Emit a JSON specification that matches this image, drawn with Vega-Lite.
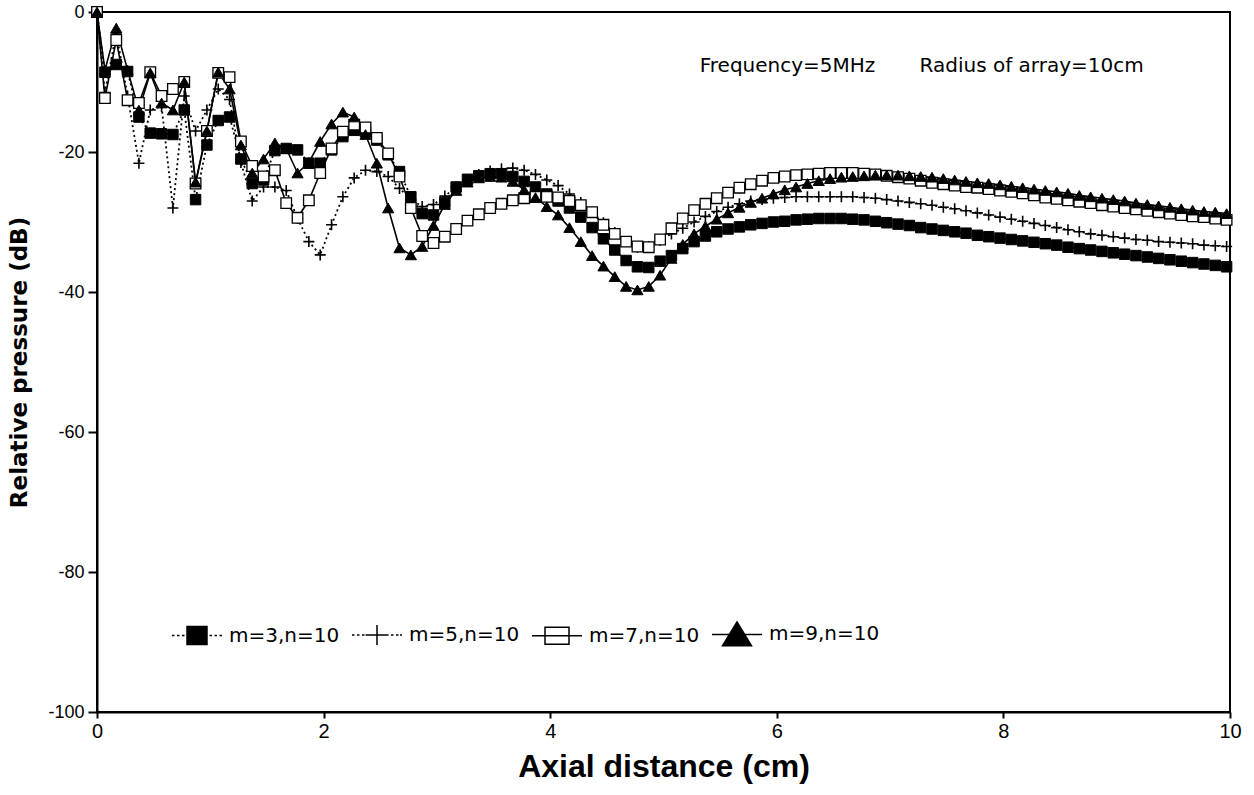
{
  "$schema": "https://vega.github.io/schema/vega-lite/v6.json",
  "autosize": {"type": "none"},
  "width": 1133,
  "height": 700,
  "padding": {"left": 97, "top": 12, "right": 24, "bottom": 83},
  "background": "white",
  "datasets": {
    "curves": [
      {"x":0,"m3":0,"m5":0,"m7":0,"m9":0},
      {"x":0.07,"m3":-8.6,"m5":-11.5,"m7":-12.3,"m9":-8.3},
      {"x":0.17,"m3":-7.5,"m5":-3,"m7":-4,"m9":-2.3},
      {"x":0.27,"m3":-8.5,"m5":-12,"m7":-12.6,"m9":-8.3},
      {"x":0.37,"m3":-15,"m5":-21.6,"m7":-13,"m9":-14},
      {"x":0.47,"m3":-17.3,"m5":-14,"m7":-8.6,"m9":-8.7},
      {"x":0.57,"m3":-17.4,"m5":-13.5,"m7":-12,"m9":-13},
      {"x":0.67,"m3":-17.5,"m5":-28,"m7":-11,"m9":-14},
      {"x":0.77,"m3":-14,"m5":-12,"m7":-10,"m9":-10},
      {"x":0.87,"m3":-26.8,"m5":-17,"m7":-24.5,"m9":-24.3},
      {"x":0.97,"m3":-19,"m5":-14,"m7":-17,"m9":-17},
      {"x":1.07,"m3":-15.5,"m5":-11,"m7":-8.7,"m9":-8.6},
      {"x":1.17,"m3":-15,"m5":-12.5,"m7":-9.3,"m9":-11},
      {"x":1.27,"m3":-21,"m5":-21.5,"m7":-18.5,"m9":-19},
      {"x":1.37,"m3":-24.5,"m5":-27,"m7":-22,"m9":-23},
      {"x":1.47,"m3":-24,"m5":-25,"m7":-23.5,"m9":-21},
      {"x":1.57,"m3":-19.8,"m5":-25,"m7":-22.6,"m9":-18.7},
      {"x":1.67,"m3":-19.5,"m5":-25.5,"m7":-27.3,"m9":-19.5},
      {"x":1.77,"m3":-19.7,"m5":-29.5,"m7":-29.4,"m9":-23},
      {"x":1.87,"m3":-21.6,"m5":-32.8,"m7":-26.9,"m9":-21.5},
      {"x":1.97,"m3":-21.6,"m5":-34.7,"m7":-23,"m9":-18.5},
      {"x":2.07,"m3":-19.7,"m5":-30.4,"m7":-19.5,"m9":-16},
      {"x":2.17,"m3":-17.8,"m5":-26.4,"m7":-17.1,"m9":-14.3},
      {"x":2.27,"m3":-16.9,"m5":-23.7,"m7":-16.1,"m9":-15},
      {"x":2.37,"m3":-17.1,"m5":-22.6,"m7":-16.5,"m9":-17.5},
      {"x":2.47,"m3":-18.3,"m5":-22.8,"m7":-18,"m9":-21.6},
      {"x":2.57,"m3":-20.4,"m5":-23.5,"m7":-20.2,"m9":-28},
      {"x":2.67,"m3":-22.8,"m5":-25.2,"m7":-23.5,"m9":-33.7},
      {"x":2.77,"m3":-26.4,"m5":-26.8,"m7":-28,"m9":-34.7},
      {"x":2.87,"m3":-28.8,"m5":-27.8,"m7":-32,"m9":-33.5},
      {"x":2.97,"m3":-29,"m5":-27.5,"m7":-33,"m9":-30.5},
      {"x":3.07,"m3":-27.2,"m5":-26.3,"m7":-32.1,"m9":-27.5},
      {"x":3.17,"m3":-25,"m5":-25,"m7":-31,"m9":-25.5},
      {"x":3.27,"m3":-23.9,"m5":-24,"m7":-29.8,"m9":-24.3},
      {"x":3.37,"m3":-23.4,"m5":-23.2,"m7":-28.9,"m9":-23.7},
      {"x":3.47,"m3":-23.1,"m5":-22.7,"m7":-28,"m9":-23.5},
      {"x":3.57,"m3":-23.1,"m5":-22.4,"m7":-27.4,"m9":-23.6},
      {"x":3.67,"m3":-23.5,"m5":-22.3,"m7":-26.9,"m9":-24.2},
      {"x":3.77,"m3":-24.2,"m5":-22.6,"m7":-26.6,"m9":-25.4},
      {"x":3.87,"m3":-25,"m5":-23.2,"m7":-26.4,"m9":-26.5},
      {"x":3.97,"m3":-26,"m5":-24,"m7":-26.4,"m9":-27.8},
      {"x":4.07,"m3":-27,"m5":-24.8,"m7":-26.5,"m9":-29},
      {"x":4.17,"m3":-28,"m5":-26,"m7":-27,"m9":-30.8},
      {"x":4.27,"m3":-29.3,"m5":-27.2,"m7":-27.6,"m9":-32.8},
      {"x":4.37,"m3":-30.8,"m5":-28.6,"m7":-28.6,"m9":-34.8},
      {"x":4.47,"m3":-32.4,"m5":-30.1,"m7":-30.4,"m9":-36.3},
      {"x":4.57,"m3":-34,"m5":-31.5,"m7":-31.7,"m9":-37.8},
      {"x":4.67,"m3":-35.5,"m5":-32.8,"m7":-32.8,"m9":-39.2},
      {"x":4.77,"m3":-36.4,"m5":-33.6,"m7":-33.5,"m9":-39.7},
      {"x":4.87,"m3":-36.5,"m5":-33.5,"m7":-33.6,"m9":-39.2},
      {"x":4.97,"m3":-35.6,"m5":-32.6,"m7":-32.5,"m9":-37.6},
      {"x":5.07,"m3":-34.8,"m5":-31.7,"m7":-30.9,"m9":-35.2},
      {"x":5.17,"m3":-33.8,"m5":-30.9,"m7":-29.5,"m9":-33.2},
      {"x":5.27,"m3":-32.8,"m5":-30,"m7":-28.3,"m9":-31.7},
      {"x":5.37,"m3":-32,"m5":-29.2,"m7":-27.4,"m9":-30.6},
      {"x":5.47,"m3":-31.4,"m5":-28.5,"m7":-26.6,"m9":-29.6},
      {"x":5.57,"m3":-31,"m5":-27.9,"m7":-25.8,"m9":-28.7},
      {"x":5.67,"m3":-30.7,"m5":-27.4,"m7":-25.1,"m9":-27.9},
      {"x":5.77,"m3":-30.4,"m5":-27,"m7":-24.6,"m9":-27.2},
      {"x":5.87,"m3":-30.2,"m5":-26.8,"m7":-24.1,"m9":-26.6},
      {"x":5.97,"m3":-30,"m5":-26.6,"m7":-23.7,"m9":-26},
      {"x":6.07,"m3":-29.9,"m5":-26.5,"m7":-23.5,"m9":-25.4},
      {"x":6.17,"m3":-29.7,"m5":-26.4,"m7":-23.3,"m9":-25},
      {"x":6.27,"m3":-29.6,"m5":-26.4,"m7":-23.2,"m9":-24.5},
      {"x":6.37,"m3":-29.5,"m5":-26.4,"m7":-23.1,"m9":-24.1},
      {"x":6.47,"m3":-29.5,"m5":-26.4,"m7":-23,"m9":-23.8},
      {"x":6.57,"m3":-29.5,"m5":-26.4,"m7":-23,"m9":-23.6},
      {"x":6.67,"m3":-29.6,"m5":-26.4,"m7":-23,"m9":-23.5},
      {"x":6.77,"m3":-29.7,"m5":-26.5,"m7":-23.1,"m9":-23.4},
      {"x":6.87,"m3":-29.9,"m5":-26.6,"m7":-23.2,"m9":-23.3},
      {"x":6.97,"m3":-30.1,"m5":-26.8,"m7":-23.4,"m9":-23.3},
      {"x":7.07,"m3":-30.3,"m5":-27,"m7":-23.6,"m9":-23.3},
      {"x":7.17,"m3":-30.5,"m5":-27.2,"m7":-23.8,"m9":-23.4},
      {"x":7.27,"m3":-30.8,"m5":-27.4,"m7":-24.1,"m9":-23.5},
      {"x":7.37,"m3":-31,"m5":-27.6,"m7":-24.4,"m9":-23.6},
      {"x":7.47,"m3":-31.2,"m5":-27.9,"m7":-24.6,"m9":-23.8},
      {"x":7.57,"m3":-31.4,"m5":-28.1,"m7":-24.8,"m9":-24},
      {"x":7.67,"m3":-31.6,"m5":-28.4,"m7":-25,"m9":-24.2},
      {"x":7.77,"m3":-31.9,"m5":-28.7,"m7":-25.1,"m9":-24.4},
      {"x":7.87,"m3":-32.1,"m5":-29,"m7":-25.3,"m9":-24.5},
      {"x":7.97,"m3":-32.3,"m5":-29.3,"m7":-25.5,"m9":-24.7},
      {"x":8.07,"m3":-32.5,"m5":-29.6,"m7":-25.7,"m9":-24.9},
      {"x":8.17,"m3":-32.7,"m5":-29.9,"m7":-25.9,"m9":-25.1},
      {"x":8.27,"m3":-32.9,"m5":-30.2,"m7":-26.2,"m9":-25.3},
      {"x":8.37,"m3":-33.1,"m5":-30.5,"m7":-26.5,"m9":-25.5},
      {"x":8.47,"m3":-33.3,"m5":-30.8,"m7":-26.7,"m9":-25.7},
      {"x":8.57,"m3":-33.6,"m5":-31.1,"m7":-26.9,"m9":-25.9},
      {"x":8.67,"m3":-33.8,"m5":-31.4,"m7":-27.1,"m9":-26.2},
      {"x":8.77,"m3":-34,"m5":-31.7,"m7":-27.3,"m9":-26.4},
      {"x":8.87,"m3":-34.2,"m5":-31.9,"m7":-27.6,"m9":-26.6},
      {"x":8.97,"m3":-34.4,"m5":-32.1,"m7":-27.8,"m9":-26.8},
      {"x":9.07,"m3":-34.6,"m5":-32.3,"m7":-28,"m9":-27},
      {"x":9.17,"m3":-34.8,"m5":-32.5,"m7":-28.2,"m9":-27.3},
      {"x":9.27,"m3":-35,"m5":-32.6,"m7":-28.4,"m9":-27.5},
      {"x":9.37,"m3":-35.2,"m5":-32.8,"m7":-28.6,"m9":-27.7},
      {"x":9.47,"m3":-35.4,"m5":-32.9,"m7":-28.8,"m9":-27.9},
      {"x":9.57,"m3":-35.6,"m5":-33,"m7":-29,"m9":-28.1},
      {"x":9.67,"m3":-35.8,"m5":-33.1,"m7":-29.2,"m9":-28.3},
      {"x":9.77,"m3":-36,"m5":-33.3,"m7":-29.3,"m9":-28.5},
      {"x":9.87,"m3":-36.2,"m5":-33.4,"m7":-29.5,"m9":-28.6},
      {"x":9.97,"m3":-36.4,"m5":-33.5,"m7":-29.7,"m9":-28.8}
    ],
    "notes": [
      {"x": 5.32, "y": -7.7, "t": "Frequency=5MHz"},
      {"x": 7.26, "y": -7.7, "t": "Radius of array=10cm"}
    ]
  },
  "layer": [
    {
      "data": {"name": "curves"},
      "transform": [
        {"fold": ["m3", "m5", "m7", "m9"], "as": ["series", "y"]},
        {"filter": "datum.series=='m3' || datum.series=='m5'"}
      ],
      "mark": {"type": "line", "color": "black", "strokeWidth": 1.8, "strokeDash": [2, 3]},
      "encoding": {
        "x": {"field": "x", "type": "quantitative", "scale": {"domain": [0, 10], "nice": false, "zero": false},
              "axis": {"values": [0, 2, 4, 6, 8, 10], "format": "d", "title": "Axial distance (cm)"}},
        "y": {"field": "y", "type": "quantitative", "scale": {"domain": [-100, 0], "nice": false, "zero": false},
              "axis": {"values": [-100, -80, -60, -40, -20, 0], "labelExpr": "'' + datum.value", "title": "Relative pressure (dB)"}},
        "detail": {"field": "series", "type": "nominal"}
      }
    },
    {
      "data": {"name": "curves"},
      "transform": [
        {"fold": ["m3", "m5", "m7", "m9"], "as": ["series", "y"]},
        {"filter": "datum.series=='m7' || datum.series=='m9'"}
      ],
      "mark": {"type": "line", "color": "black", "strokeWidth": 1.6},
      "encoding": {
        "x": {"field": "x", "type": "quantitative"},
        "y": {"field": "y", "type": "quantitative"},
        "detail": {"field": "series", "type": "nominal"}
      }
    },
    {
      "data": {"name": "curves"},
      "transform": [{"fold": ["m3"], "as": ["series", "y"]}],
      "mark": {"type": "point", "shape": "square", "filled": true, "fill": "black", "stroke": "black", "strokeWidth": 1, "opacity": 1, "size": 110},
      "encoding": {"x": {"field": "x", "type": "quantitative"}, "y": {"field": "y", "type": "quantitative"}}
    },
    {
      "data": {"name": "curves"},
      "transform": [{"fold": ["m5"], "as": ["series", "y"]}],
      "mark": {"type": "point", "shape": "M-1,0H1M0,-1V1", "filled": false, "fill": "transparent", "stroke": "black", "strokeWidth": 1.6, "opacity": 1, "size": 121},
      "encoding": {"x": {"field": "x", "type": "quantitative"}, "y": {"field": "y", "type": "quantitative"}}
    },
    {
      "data": {"name": "curves"},
      "transform": [{"fold": ["m7"], "as": ["series", "y"]}],
      "mark": {"type": "point", "shape": "square", "filled": true, "fill": "white", "stroke": "black", "strokeWidth": 1.3, "opacity": 1, "size": 112},
      "encoding": {"x": {"field": "x", "type": "quantitative"}, "y": {"field": "y", "type": "quantitative"}}
    },
    {
      "data": {"name": "curves"},
      "transform": [{"fold": ["m9"], "as": ["series", "y"]}],
      "mark": {"type": "point", "shape": "triangle-up", "filled": true, "fill": "black", "stroke": "black", "strokeWidth": 1, "opacity": 1, "size": 125},
      "encoding": {"x": {"field": "x", "type": "quantitative"}, "y": {"field": "y", "type": "quantitative"}}
    },
    {
      "data": {"name": "curves"},
      "transform": [{"fold": ["m3", "m5", "m7", "m9"], "as": ["series", "y"]}],
      "mark": {"type": "point", "filled": true, "stroke": "black", "strokeWidth": 1.5, "size": 0, "opacity": 1, "fillOpacity": 1, "strokeOpacity": 1},
      "encoding": {
        "x": {"field": "x", "type": "quantitative"},
        "y": {"field": "y", "type": "quantitative"},
        "shape": {"field": "series", "type": "nominal",
                  "scale": {"domain": ["m3", "m5", "m7", "m9"],
                            "range": [
                              "M-1,0h0.1M-0.8,0h0.1M-0.6,0h0.1M0.5,0h0.1M0.7,0h0.1M0.9,0h0.1M-0.4,-0.36h0.8v0.72h-0.8z",
                              "M-1,0h0.1M-0.8,0h0.1M-0.6,0h0.1M-0.46,0H0.46M0,-0.4V0.4M0.56,0h0.1M0.76,0h0.1M0.92,0h0.08",
                              "M-1,0H1M-0.48,-0.34h0.96v0.68h-0.96z",
                              "M-1,0H1M0,-0.5L0.58,0.45H-0.58z"
                            ]}},
        "fill": {"field": "series", "type": "nominal",
                 "scale": {"domain": ["m3", "m5", "m7", "m9"], "range": ["black", "transparent", "white", "black"]},
                 "legend": {
                   "orient": "none", "legendX": 74, "legendY": 596, "direction": "horizontal",
                   "title": null, "padding": 0, "symbolSize": 2500, "labelOffset": 6, "columnPadding": 9,
                   "symbolOpacity": 1, "symbolStrokeColor": "black", "symbolStrokeWidth": 1.5,
                   "labelFont": "DejaVu Sans", "labelFontSize": 20, "labelColor": "black",
                   "labelExpr": "datum.value=='m3'?'m=3,n=10':datum.value=='m5'?'m=5,n=10':datum.value=='m7'?'m=7,n=10':'m=9,n=10'"
                 }}
      }
    },
    {
      "data": {"name": "notes"},
      "mark": {"type": "text", "align": "left", "baseline": "middle", "font": "DejaVu Sans", "fontSize": 20, "color": "black"},
      "encoding": {
        "x": {"field": "x", "type": "quantitative"},
        "y": {"field": "y", "type": "quantitative"},
        "text": {"field": "t", "type": "nominal"}
      }
    }
  ],
  "config": {
    "view": {"stroke": "black", "strokeWidth": 2},
    "axis": {
      "grid": false, "domainColor": "black", "domainWidth": 2, "tickColor": "black", "tickWidth": 2,
      "labelColor": "black", "titleColor": "black", "labelFont": "Liberation Sans", "labelFlush": false
    },
    "axisX": {"tickSize": 6, "labelFontSize": 20, "labelPadding": 3, "titleFont": "Liberation Sans",
              "titleFontSize": 32, "titleFontWeight": "bold", "titlePadding": 10},
    "axisY": {"tickSize": 9, "labelFontSize": 18, "labelPadding": 4, "titleFont": "DejaVu Sans",
              "titleFontSize": 23, "titleFontWeight": "bold", "titlePadding": 16}
  }
}
